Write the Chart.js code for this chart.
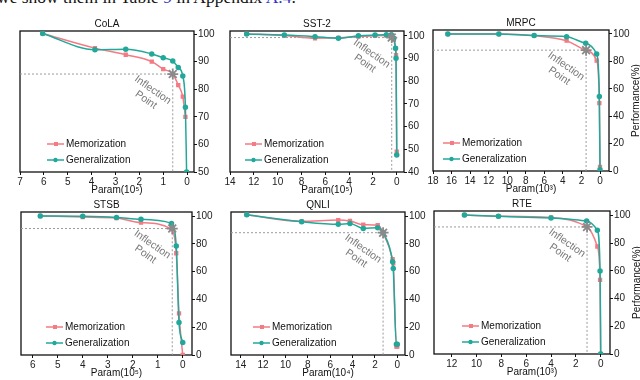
<!DOCTYPE html>
<html lang="en">
<head>
<meta charset="UTF-8" />
<title>Memorization vs Generalization</title>
<script src="https://cdn.jsdelivr.net/npm/chart.js@4.4.0/dist/chart.umd.min.js"></script>
<style>
  body { margin:0; background:#fff; width:640px; height:380px; overflow:hidden; position:relative; }
  canvas { position:absolute; }
  #caption { position:absolute; left:-3px; top:-11px; font:17.5px/17px "Liberation Serif", "Times New Roman", serif; color:#111; white-space:nowrap; }
  #caption span { color:#3535c8; }
</style>
</head>
<body>
<div id="caption">we show them in Table <span>9</span> in Appendix <span>A.4</span>.</div>
<canvas id="cola"></canvas>
<canvas id="sst2"></canvas>
<canvas id="mrpc"></canvas>
<canvas id="stsb"></canvas>
<canvas id="qnli"></canvas>
<canvas id="rte"></canvas>
<script>
// values (x = remaining params, y = performance %)
const colaParam = [6.05, 3.86, 2.57, 1.48, 1.0, 0.6, 0.37, 0.18, 0.07, 0.02];
const colaMem   = [100.2, 94.9, 92.5, 90.0, 87.3, 85.5, 81.5, 77.3, 70.0, null];
const colaGen   = [100.2, 94.3, 94.5, 92.8, 91.4, 90.2, 87.9, 84.8, 73.5, 50.0];
const colaInflection = [0.6, 85.5];
const colaXTicks = [7, 6, 5, 4, 3, 2, 1, 0];
const colaYTicks = [50, 60, 70, 80, 90, 100];

const sst2Param = [12.6, 9.44, 6.86, 4.9, 3.22, 1.82, 0.87, 0.45, 0.25, 0.1, 0.06, 0.0];
const sst2Mem   = [100.9, 100.2, 99.0, 99.2, 99.7, 100.1, 100.2, 99.3, 98.3, 94.5, 91.5, 49.0];
const sst2Gen   = [100.9, 100.4, 99.7, 99.0, 100.1, 100.4, 100.5, 100.5, 99.0, 94.6, 90.2, 47.5];
const sst2Inflection = [0.42, 99.3];
const sst2XTicks = [14, 12, 10, 8, 6, 4, 2, 0];
const sst2YTicks = [40, 50, 60, 70, 80, 90, 100];

const mrpcParam = [16.4, 10.9, 7.1, 3.6, 1.54, 0.36, 0.07, 0.0];
const mrpcMem   = [100, 100, 98.8, 95.1, 88.3, 80.5, 49.5, 3];
const mrpcGen   = [100, 100, 98.8, 98.0, 93.2, 85.4, 54.4, 1];
const mrpcInflection = [1.5, 88.2];
const mrpcXTicks = [18, 16, 14, 12, 10, 8, 6, 4, 2, 0];
const pctTicks = [0, 20, 40, 60, 80, 100];

const stsbParam = [5.7, 4.0, 2.65, 1.67, 0.45, 0.26, 0.15, 0.0];
const stsbMem   = [100, 99.3, 98.5, 95.2, 90.6, 73.2, 30, 0];
const stsbGen   = [100, 99.8, 99.0, 97.6, 94.7, 78.4, 23.4, 9];
const stsbInflection = [0.42, 91];
const stsbXTicks = [6, 5, 4, 3, 2, 1, 0];

const qnliParam = [13.46, 8.55, 5.28, 4.23, 3.04, 1.75, 1.27, 0.42, 0.36, 0.08, 0.0];
const qnliMem   = [100.9, 96.2, 97.1, 96.4, 93.8, 93.5, 88.0, 68.9, 66.0, 6.0, 6.0];
const qnliGen   = [100.9, 95.9, 94.0, 94.7, 91.1, 91.6, 88.0, 67.1, 62.3, 7.7, 7.7];
const qnliInflection = [1.27, 88];
const qnliXTicks = [14, 12, 10, 8, 6, 4, 2, 0];

const rteParam = [10.98, 8.24, 4.0, 1.13, 0.27, 0.05, 0.0];
const rteMem   = [100.2, 99.3, 98.5, 91.8, 77.5, 53.5, 0];
const rteGen   = [100.2, 99.3, 98.0, 95.9, 89.2, 59.9, 0];
const rteInflection = [1.1, 91.6];
const rteXTicks = [12, 10, 8, 6, 4, 2, 0];

const MEM = '#f47a84';
const GEN = '#22a89a';
const GREY = '#8a8a8a';

Chart.defaults.font.family = '"Liberation Sans", Arial, sans-serif';
Chart.defaults.font.size = 10;
Chart.defaults.color = '#222';

const panels = [
  {id:'cola', title:'CoLA', xTitle:'Param(10⁵)', area:[20,31,194,172], xr:[-0.29,7], yr:[50,101.1],
   xt:colaXTicks, yt:colaYTicks, param:colaParam, mem:colaMem, gen:colaGen, star:colaInflection, lgX:27},
  {id:'sst2', title:'SST-2', xTitle:'Param(10⁵)', area:[230,31,404,172], xr:[-0.61,14], yr:[40,102.2],
   xt:sst2XTicks, yt:sst2YTicks, param:sst2Param, mem:sst2Mem, gen:sst2Gen, star:sst2Inflection, lgX:15},
  {id:'mrpc', title:'MRPC', xTitle:'Param(10³)', area:[433,30,609,171], xr:[-0.97,18], yr:[0,102.9],
   xt:mrpcXTicks, yt:pctTicks, param:mrpcParam, mem:mrpcMem, gen:mrpcGen, star:mrpcInflection, lgX:10, yTitle:true},
  {id:'stsb', title:'STSB', xTitle:'Param(10⁵)', area:[21,212,192,355], xr:[-0.37,6.47], yr:[0,102.9],
   xt:stsbXTicks, yt:pctTicks, param:stsbParam, mem:stsbMem, gen:stsbGen, star:stsbInflection, lgX:25},
  {id:'qnli', title:'QNLI', xTitle:'Param(10⁴)', area:[231,212,405,355], xr:[-0.69,14.87], yr:[0,102.9],
   xt:qnliXTicks, yt:pctTicks, param:qnliParam, mem:qnliMem, gen:qnliGen, star:qnliInflection, lgX:22},
  {id:'rte', title:'RTE', xTitle:'Param(10³)', area:[434,211,610,354], xr:[-0.75,13.43], yr:[0,103.1],
   xt:rteXTicks, yt:pctTicks, param:rteParam, mem:rteMem, gen:rteGen, star:rteInflection, lgX:28, yTitle:true}
];

function pts(xs, ys) {
  return xs.map((x, i) => ({x: x, y: ys[i]})).filter(p => p.y !== null);
}

// frame, titles, legend and the "Inflection Point" note
const deco = {
  id: 'deco',
  beforeDatasetsDraw(chart) {
    const {ctx, chartArea: a} = chart;
    ctx.save();
    ctx.strokeStyle = '#111';
    ctx.lineWidth = 1.3;
    ctx.strokeRect(a.left, a.top, a.right - a.left, a.bottom - a.top);
    ctx.restore();
  },
  afterDraw(chart) {
    const p = chart.options.plugins.deco.panel;
    const {ctx, chartArea: a, scales} = chart;
    ctx.save();
    ctx.fillStyle = '#111';
    ctx.font = '10px "Liberation Sans", Arial, sans-serif';
    ctx.textAlign = 'center';
    ctx.textBaseline = 'middle';
    ctx.fillText(p.title, (a.left + a.right) / 2, a.top - 7);
    ctx.fillText(p.xTitle, (a.left + a.right) / 2 + 10, a.bottom + 18);
    if (p.yTitle) {
      ctx.save();
      ctx.translate(a.right + 27, (a.top + a.bottom) / 2);
      ctx.rotate(-Math.PI / 2);
      ctx.fillText('Performance(%)', 0, 0);
      ctx.restore();
    }
    // legend
    const items = [['Memorization', MEM, 'rect'], ['Generalization', GEN, 'circle']];
    items.forEach((it, i) => {
      const x0 = a.left + p.lgX;
      const y = a.bottom - 28 + i * 16;
      ctx.strokeStyle = it[1];
      ctx.fillStyle = it[1];
      ctx.lineWidth = 1.5;
      ctx.beginPath();
      ctx.moveTo(x0, y);
      ctx.lineTo(x0 + 17, y);
      ctx.stroke();
      if (it[2] === 'rect') {
        ctx.fillRect(x0 + 7, y - 2, 4, 4);
      } else {
        ctx.beginPath();
        ctx.arc(x0 + 8.5, y, 2.2, 0, Math.PI * 2);
        ctx.fill();
      }
      ctx.fillStyle = '#111';
      ctx.textAlign = 'left';
      ctx.fillText(it[0], x0 + 19, y);
    });
    // inflection note
    const sx = scales.x.getPixelForValue(p.star[0]);
    const sy = scales.y.getPixelForValue(p.star[1]);
    ctx.translate(sx - 20, sy + 16);
    ctx.rotate(35 * Math.PI / 180);
    ctx.fillStyle = '#7a7a7a';
    ctx.font = '10.5px "Liberation Sans", Arial, sans-serif';
    ctx.textAlign = 'center';
    ctx.fillText('Inflection', 0, 0);
    ctx.fillText('Point', 0, 12);
    ctx.restore();
  }
};

panels.forEach(p => {
  const [l, t, r, b] = p.area;
  const cv = document.getElementById(p.id);
  cv.width = r - l + 50;
  cv.height = b - t + 46;
  cv.style.left = (l - 15) + 'px';
  cv.style.top = (t - 20) + 'px';

  const guide = [
    {x: p.xr[1], y: p.star[1]},
    {x: p.star[0], y: p.star[1]},
    {x: p.star[0], y: p.yr[0]}
  ];
  const axisGrid = {display: true, drawOnChartArea: false, drawTicks: true, tickLength: 3, tickColor: '#111', lineWidth: 1};

  new Chart(cv.getContext('2d'), {
    type: 'line',
    data: {
      datasets: [
        {data: [{x: p.star[0], y: p.star[1]}], showLine: false, pointStyle: 'star', pointRadius: 5.5,
         borderColor: GREY, backgroundColor: GREY, pointBorderWidth: 1.8},
        {label: 'Generalization', data: pts(p.param, p.gen), borderColor: GEN, backgroundColor: GEN,
         pointStyle: 'circle', pointRadius: 2, borderWidth: 1.5, cubicInterpolationMode: 'monotone'},
        {label: 'Memorization', data: pts(p.param, p.mem), borderColor: MEM, backgroundColor: MEM,
         pointStyle: 'rect', pointRadius: 2, borderWidth: 1.5, cubicInterpolationMode: 'monotone'},
        {data: guide, borderColor: '#9a9a9a', borderWidth: 1, borderDash: [2, 2], pointRadius: 0, tension: 0}
      ]
    },
    options: {
      responsive: false,
      animation: false,
      layout: {padding: {left: 15, top: 20, right: 5, bottom: 2}},
      plugins: {legend: {display: false}, tooltip: {enabled: false}, deco: {panel: p}},
      scales: {
        x: {
          type: 'linear', reverse: true, min: p.xr[0], max: p.xr[1],
          afterBuildTicks: s => { s.ticks = p.xt.map(v => ({value: v})); },
          afterFit: s => { s.height = 24; },
          grid: axisGrid, border: {display: false},
          ticks: {padding: 1, maxRotation: 0, autoSkip: false, color: '#222'}
        },
        y: {
          type: 'linear', position: 'right', min: p.yr[0], max: p.yr[1],
          afterBuildTicks: s => { s.ticks = p.yt.map(v => ({value: v})); },
          afterFit: s => { s.width = 30; },
          grid: axisGrid, border: {display: false},
          ticks: {padding: 1, color: '#222'}
        }
      }
    },
    plugins: [deco]
  });
});
</script>
</body>
</html>
